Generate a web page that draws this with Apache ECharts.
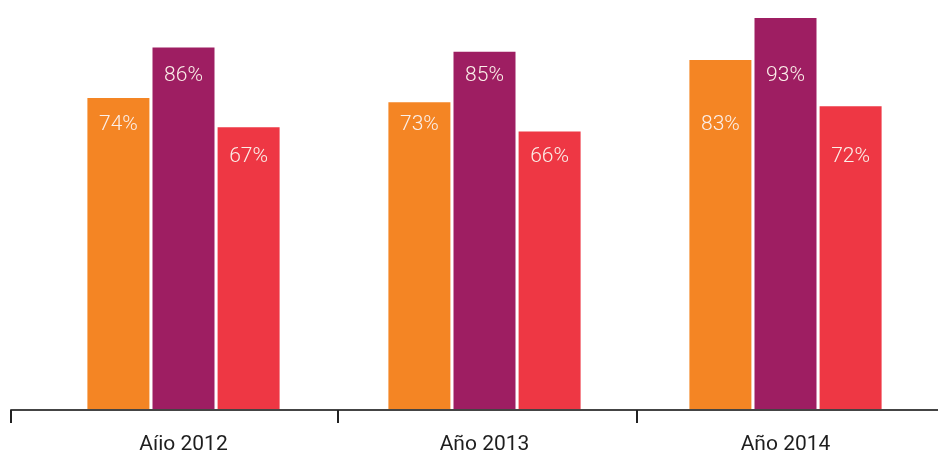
<!DOCTYPE html>
<html>
<head>
<meta charset="utf-8">
<script src="https://cdn.jsdelivr.net/npm/echarts@6/dist/echarts.min.js"></script>
<style>
  html, body { margin: 0; padding: 0; background: #fff; }
  #chart { width: 938px; height: 455px; }
</style>
</head>
<body>
<div id="chart"></div>
<script>
'use strict';
// 数据
var categories = ['Aíio 2012', 'Año 2013', 'Año 2014'];
var serieA = [74, 73, 83];
var serieB = [86, 85, 93];
var serieC = [67, 66, 72];
var colors = ['#F48524', '#9E1E62', '#EE3744'];
// 每个系列标签所在的高度（像素）
var labelY = [125, 76, 157];

var chart = echarts.init(document.getElementById('chart'));

function barSeries(name, data, color) {
    return {
        name: name,
        type: 'bar',
        xAxisIndex: 0,
        yAxisIndex: 0,
        barWidth: 62,
        barGap: '5%',
        itemStyle: { color: color },
        label: {
            show: true,
            position: 'insideTop',
            formatter: '{c}%',
            color: '#fbefe9',
            fontFamily: 'Roboto',
            fontWeight: 300,
            fontSize: 21,
            align: 'center',
            verticalAlign: 'middle'
        },
        labelLayout: function (params) {
            return { y: labelY[params.seriesIndex] };
        },
        data: data
    };
}

var option = {
    animation: false,
    grid: [
        { left: 33, right: 2, top: 0, bottom: 44 },
        { left: 11, right: 0, top: 0, bottom: 45 }
    ],
    xAxis: [{
        type: 'category',
        gridIndex: 0,
        data: categories,
        axisLine: { show: false },
        axisTick: { show: false },
        axisLabel: {
            color: '#1e1e1e',
            fontFamily: 'Roboto',
            fontSize: 21,
            margin: 25
        }
    }, {
        // 底部轴线和刻度
        type: 'value',
        gridIndex: 1,
        min: 0,
        max: 927,
        splitLine: { show: false },
        axisLabel: { show: false },
        axisLine: { show: true, lineStyle: { color: '#444', width: 2 } },
        axisTick: {
            show: true,
            customValues: [0, 327, 626],
            length: 13,
            lineStyle: { color: '#222', width: 2 }
        }
    }],
    yAxis: [{
        type: 'value',
        gridIndex: 0,
        min: 0,
        max: 97.3,
        show: false
    }, {
        type: 'value',
        gridIndex: 1,
        show: false
    }],
    series: [
        barSeries('Serie 1', serieA, colors[0]),
        barSeries('Serie 2', serieB, colors[1]),
        barSeries('Serie 3', serieC, colors[2])
    ]
};
chart.setOption(option);
</script>
</body>
</html>
